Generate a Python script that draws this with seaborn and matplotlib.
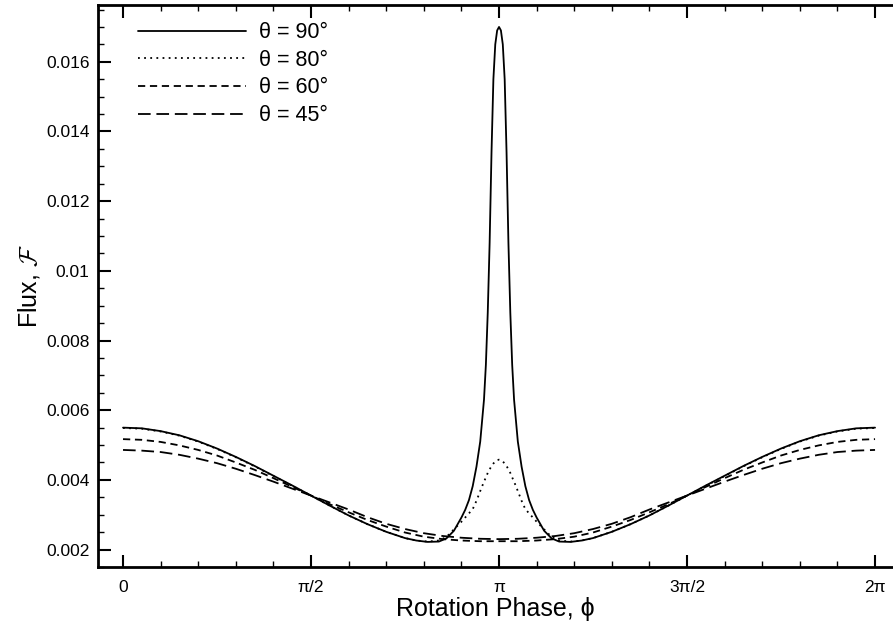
"""
Flux vs rotation phase for several inclinations (line chart, seaborn)
"""

import matplotlib
matplotlib.use("Agg")
import matplotlib.pyplot as plt
import seaborn as sns
import numpy as np
import pandas as pd

# phase grid for the left half (in units of pi); curves are symmetric about phi = pi
phase_coarse = [0.00, 0.05, 0.10, 0.15, 0.20, 0.25, 0.30, 0.35, 0.40, 0.45,
                0.50, 0.55, 0.60, 0.65, 0.70, 0.75, 0.80, 0.85, 0.90, 0.95, 1.00]
phase_fine = [0.00, 0.05, 0.10, 0.15, 0.20, 0.25, 0.30, 0.35, 0.40, 0.45,
              0.50, 0.55, 0.60, 0.65, 0.70, 0.75, 0.78, 0.81, 0.84, 0.86,
              0.88, 0.90, 0.91, 0.92, 0.93, 0.94, 0.95, 0.96, 0.965, 0.97,
              0.975, 0.98, 0.985, 0.99, 0.995, 1.00]

flux_90 = [0.00550, 0.00548, 0.00540, 0.00528, 0.00511, 0.00490, 0.00466, 0.00440, 0.00412, 0.00384,
           0.00355, 0.00326, 0.00298, 0.00273, 0.00251, 0.00233, 0.00226, 0.00222, 0.00223, 0.00232,
           0.00254, 0.00292, 0.00314, 0.00342, 0.00382, 0.00438, 0.00510, 0.00630, 0.00730, 0.00880,
           0.01080, 0.01340, 0.01550, 0.01650, 0.01690, 0.01700]
flux_80 = [0.00549, 0.00547, 0.00539, 0.00527, 0.00510, 0.00489, 0.00465, 0.00439, 0.00411, 0.00383,
           0.00355, 0.00326, 0.00298, 0.00273, 0.00251, 0.00233, 0.00226, 0.00223, 0.00226, 0.00236,
           0.00258, 0.00280, 0.00292, 0.00304, 0.00316, 0.00340, 0.00368, 0.00395, 0.00407, 0.00420,
           0.00430, 0.00440, 0.00447, 0.00453, 0.00457, 0.00458]
flux_60 = [0.00517, 0.00515, 0.00509, 0.00499, 0.00486, 0.00470, 0.00450, 0.00429, 0.00405, 0.00380,
           0.00355, 0.00330, 0.00307, 0.00285, 0.00266, 0.00249, 0.00237, 0.00230, 0.00226, 0.00224, 0.00224]
flux_45 = [0.00486, 0.00484, 0.00480, 0.00472, 0.00461, 0.00448, 0.00432, 0.00414, 0.00395, 0.00375,
           0.00355, 0.00335, 0.00315, 0.00293, 0.00274, 0.00259, 0.00247, 0.00239, 0.00234, 0.00231, 0.00230]

labels = ["θ = 90°", "θ = 80°", "θ = 60°", "θ = 45°"]

x_tick_labels = ["0", "π/2", "π", "3π/2", "2π"]
y_ticks = [0.002, 0.004, 0.006, 0.008, 0.010, 0.012, 0.014, 0.016]
y_tick_labels = ["0.002", "0.004", "0.006", "0.008", "0.01", "0.012", "0.014", "0.016"]


def full_curve(phase, flux):
    # mirror the left half (0..pi) onto pi..2pi
    left = np.array(phase) * np.pi
    right = 2 * np.pi - left[::-1][1:]
    return np.concatenate([left, right]), np.concatenate([flux, flux[::-1][1:]])


frames = []
for label, phase, flux in [(labels[0], phase_fine, flux_90),
                           (labels[1], phase_fine, flux_80),
                           (labels[2], phase_coarse, flux_60),
                           (labels[3], phase_coarse, flux_45)]:
    x, y = full_curve(phase, flux)
    frames.append(pd.DataFrame({"phi": x, "flux": y, "theta": label}))
df = pd.concat(frames, ignore_index=True)

sns.set_style("ticks")
plt.rcParams['font.family'] = ['Liberation Sans', 'DejaVu Sans']
plt.rcParams['mathtext.fontset'] = 'cm'
for key in ['text.color', 'axes.labelcolor', 'xtick.color', 'ytick.color', 'axes.edgecolor']:
    plt.rcParams[key] = 'black'

fig = plt.figure(figsize=(8.93, 6.31), dpi=100)
ax = fig.add_axes([98 / 893, 64 / 631, 795 / 893, 562 / 631])

dash_styles = {
    labels[0]: "",
    labels[1]: (1, 2.4),
    labels[2]: (4, 2.6),
    labels[3]: (7, 3.2),
}
sns.lineplot(data=df, x="phi", y="flux", style="theta", dashes=dash_styles,
             color="black", linewidth=1.3, estimator=None, sort=False, ax=ax)

ax.set_xlim(-0.209, 2 * np.pi + 0.15)
ax.set_ylim(0.001542, 0.01763)

ax.set_xticks([0, np.pi / 2, np.pi, 3 * np.pi / 2, 2 * np.pi])
ax.set_xticklabels(x_tick_labels)
ax.set_xticks(np.arange(0, 21) * np.pi / 10, minor=True)
ax.set_yticks(y_ticks)
ax.set_yticklabels(y_tick_labels)
ax.set_yticks(np.arange(0.0015, 0.0176, 0.0005), minor=True)

ax.tick_params(axis="both", which="major", direction="in", length=9, width=1.5,
               labelsize=12.5, top=True, right=False)
ax.tick_params(axis="both", which="minor", direction="in", length=4.5, width=1.0,
               top=True, right=False)
ax.tick_params(axis="x", which="major", pad=9)
ax.tick_params(axis="y", which="major", pad=6)

for side in ["left", "bottom", "top"]:
    ax.spines[side].set_linewidth(2.0)
ax.spines["right"].set_visible(False)

ax.set_xlabel("Rotation Phase, ϕ", fontsize=18, labelpad=2)
ax.set_ylabel(r"Flux, $\mathcal{F}$", fontsize=18, labelpad=3)

leg = ax.legend(loc="upper left", frameon=False, fontsize=15.5, handlelength=5.0,
                handletextpad=0.6, labelspacing=0.31, borderaxespad=0,
                bbox_to_anchor=(0.0395, 0.985), title=None)
for line in leg.get_lines():
    line.set_linewidth(1.3)

fig.savefig("out.png", dpi=100)
plt.close(fig)
